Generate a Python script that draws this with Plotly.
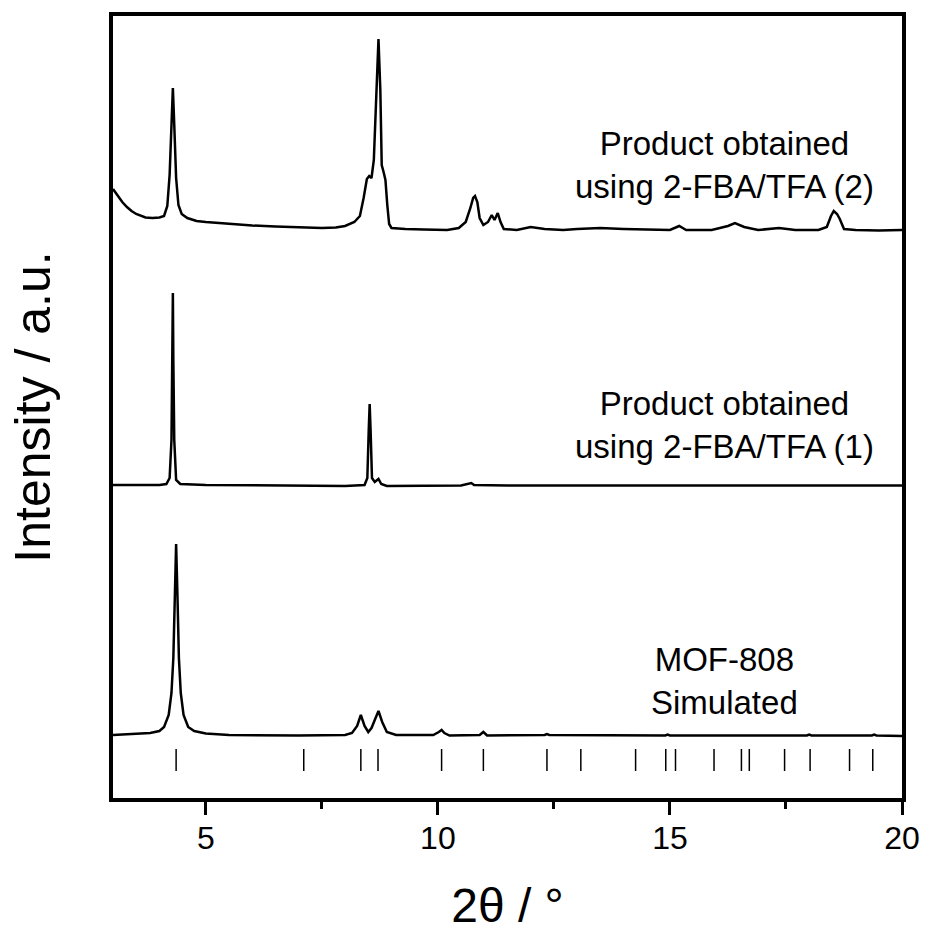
import plotly.graph_objects as go

# ---- data (2θ in degrees, intensity in arbitrary stacked units) ----
theta_fba2 = [3.0, 3.1, 3.2, 3.3, 3.4, 3.5, 3.6, 3.7, 3.85, 4.0, 4.1, 4.17, 4.22, 4.26, 4.29, 4.32,
              4.36, 4.41, 4.48, 4.6, 4.8, 5.0, 5.5, 6.0, 6.5, 7.0, 7.5, 7.8, 8.0, 8.2, 8.32, 8.4,
              8.47, 8.52, 8.57, 8.62, 8.67, 8.72, 8.76, 8.79, 8.83, 8.87, 8.91, 8.95, 9.0, 9.3,
              9.7, 10.2, 10.45, 10.6, 10.7, 10.76, 10.8, 10.85, 10.9, 10.98, 11.08, 11.16, 11.22,
              11.29, 11.35, 11.42, 11.7, 12.0, 12.3, 12.7, 13.0, 13.5, 14.0, 14.6, 15.0, 15.2,
              15.35, 15.9, 16.25, 16.4, 16.6, 16.9, 17.35, 17.7, 18.2, 18.38, 18.47, 18.53, 18.6,
              18.66, 18.75, 19.0, 19.5, 20.0]
inten_fba2 = [609, 602, 596, 591, 587, 584, 582, 580.5, 580, 580.5, 582, 592, 623, 673, 710, 673,
              620, 593, 584, 580, 577, 576, 574, 572.5, 571.5, 570.5, 570, 570.5, 572, 576, 582, 600,
              619, 622, 620, 638, 708, 759, 708, 633, 626, 618, 593, 574, 570, 569,
              568.5, 568, 570, 576, 590, 600, 602, 596, 580, 573, 576, 583, 578,
              585, 576, 569, 568, 571, 569, 568, 569, 570, 569, 568, 568, 572,
              568, 568, 572, 575, 571, 568, 570, 568, 568, 571, 582, 587, 584,
              579, 569, 568, 567.5, 568]

theta_fba1 = [3.0, 4.0, 4.15, 4.22, 4.26, 4.28, 4.29, 4.30, 4.32, 4.36, 4.45, 5.0, 6.0, 7.0, 8.0,
              8.42, 8.48, 8.51, 8.53, 8.55, 8.58, 8.64, 8.72, 8.78, 8.9, 10.5, 10.66, 10.72, 10.78,
              11.5, 13.0, 15.0, 17.0, 20.0]
inten_fba1 = [313, 313, 314, 320, 358, 438, 505, 438, 358, 318, 314, 313, 312.5, 312, 312,
              313, 320, 368, 394, 368, 320, 316, 319, 314, 312, 312.5, 314, 315, 313,
              312.5, 312.5, 312.5, 312.5, 312.5]

theta_sim = [3.0, 3.5, 3.8, 4.0, 4.1, 4.2, 4.26, 4.3, 4.33, 4.36, 4.39, 4.42, 4.46, 4.52, 4.62,
             4.75, 5.0, 5.5, 7.0, 8.0, 8.15, 8.26, 8.34, 8.42, 8.5, 8.57, 8.64, 8.72, 8.8, 8.9,
             9.1, 9.9, 10.02, 10.08, 10.14, 10.25, 10.9, 10.98, 11.06, 12.3, 12.35, 12.4, 14.9,
             14.95, 15.0, 17.95, 18.0, 18.05, 19.35, 19.4, 19.45, 20.0]
inten_sim = [63, 64, 65, 67, 71, 83, 105, 140, 200, 254, 200, 140, 105, 83, 71,
             67, 64.5, 63, 62.5, 63, 65, 72, 83, 72, 66, 70, 78, 87, 76, 66,
             63, 63, 66, 68, 65, 62.5, 63, 66, 62.5, 63, 64, 63, 62.5,
             63.5, 62.5, 62.5, 63.5, 62.5, 62.5, 63.5, 62.5, 62]

stick_positions = [4.36, 7.11, 8.34, 8.71, 10.08, 10.98, 12.35, 13.08, 14.26, 14.91, 15.12,
                   15.95, 16.54, 16.71, 17.47, 18.02, 18.87, 19.37]
stick_bottom = 27
stick_top = 49

labels = ["Product obtained<br>using 2-FBA/TFA (2)",
          "Product obtained<br>using 2-FBA/TFA (1)",
          "MOF-808<br>Simulated"]
x_ticks = [5, 10, 15, 20]

FONT = "Liberation Sans, Arial, sans-serif"

fig = go.Figure()
for xs, ys in [(theta_fba2, inten_fba2), (theta_fba1, inten_fba1), (theta_sim, inten_sim)]:
    fig.add_trace(go.Scatter(x=xs, y=ys, mode="lines",
                             line=dict(color="black", width=2.5),
                             showlegend=False, hoverinfo="x+y"))

sx, sy = [], []
for p in stick_positions:
    sx += [p, p, None]
    sy += [stick_bottom, stick_top, None]
fig.add_trace(go.Scatter(x=sx, y=sy, mode="lines", line=dict(color="black", width=1.5),
                         showlegend=False, hoverinfo="skip"))

for txt, yv in zip(labels, [633, 373, 117]):
    fig.add_annotation(x=16.17, y=yv, text=txt, showarrow=False, xanchor="center",
                       yanchor="middle", font=dict(family=FONT, size=33, color="black"))

fig.update_layout(
    width=932, height=940,
    margin=dict(l=113, r=26, t=16, b=142),
    paper_bgcolor="white", plot_bgcolor="white",
    font=dict(family=FONT, color="black"),
)
fig.update_xaxes(range=[3, 20], tickvals=x_ticks, ticktext=[str(t) for t in x_ticks],
                 ticks="outside", ticklen=13, tickwidth=3, tickcolor="black",
                 ticklabelstandoff=-4,
                 minor=dict(tickvals=[7.5, 12.5, 17.5], ticks="outside", ticklen=7,
                            tickwidth=3, tickcolor="black"),
                 showline=True, linewidth=4, linecolor="black", mirror=True,
                 showgrid=False, zeroline=False,
                 tickfont=dict(family=FONT, size=32, color="black"),
                 title=dict(text="2θ / °", font=dict(family=FONT, size=48, color="black"),
                            standoff=34))
fig.update_yaxes(range=[0, 782], showticklabels=False, ticks="",
                 showline=True, linewidth=4, linecolor="black", mirror=True,
                 showgrid=False, zeroline=False,
                 title=dict(text="Intensity / a.u.", font=dict(family=FONT, size=50, color="black"),
                            standoff=44))

fig.write_html("out.html")
